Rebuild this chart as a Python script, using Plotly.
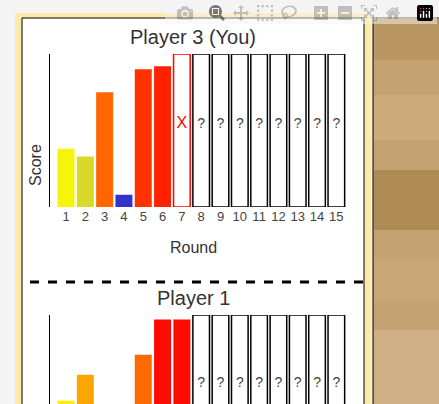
import plotly.graph_objects as go

rounds = list(range(1, 16))

# Player 3 (You): rounds played so far
p3_rounds = [1, 2, 3, 4, 5, 6]
p3_scores = [38, 33, 75, 8, 90, 92]
p3_colors = ['#f5f50a', '#d9d92a', '#ff6600', '#3333cc', '#ff3300', '#ff2200']
p3_current = 7
p3_pending = [8, 9, 10, 11, 12, 13, 14, 15]

# Player 1
p1_rounds = [1, 2, 5, 6, 7]
p1_scores = [44, 61, 74, 97, 97]
p1_colors = ['#ffee00', '#ffa500', '#ff6a00', '#ff0a00', '#ff0a00']
p1_pending = [8, 9, 10, 11, 12, 13, 14, 15]

W, H = 439, 404


def fx(px):
    return px / W


def fy(py):
    return 1 - py / H


fig = go.Figure()

# top panel
fig.add_trace(go.Bar(x=p3_rounds, y=p3_scores, marker=dict(color=p3_colors, line=dict(width=0)),
                     width=0.88, xaxis='x', yaxis='y'))
fig.add_trace(go.Bar(x=p3_pending, y=[100] * len(p3_pending), width=0.86,
                     marker=dict(color='white', line=dict(color='black', width=1.5)), xaxis='x', yaxis='y'))
fig.add_trace(go.Bar(x=[p3_current], y=[100], width=0.86,
                     marker=dict(color='white', line=dict(color='red', width=1.5)), xaxis='x', yaxis='y'))
fig.add_trace(go.Scatter(x=p3_pending, y=[54] * len(p3_pending), mode='text', text=['?'] * len(p3_pending),
                         textfont=dict(size=14, color='#444'), xaxis='x', yaxis='y'))
fig.add_trace(go.Scatter(x=[p3_current], y=[54], mode='text', text=['X'],
                         textfont=dict(size=16, color='red'), xaxis='x', yaxis='y'))

# bottom panel
fig.add_trace(go.Bar(x=p1_rounds, y=p1_scores, marker=dict(color=p1_colors, line=dict(width=0)),
                     width=0.88, xaxis='x2', yaxis='y2'))
fig.add_trace(go.Bar(x=p1_pending, y=[100] * len(p1_pending), width=0.86,
                     marker=dict(color='white', line=dict(color='black', width=1.5)), xaxis='x2', yaxis='y2'))
fig.add_trace(go.Scatter(x=p1_pending, y=[55] * len(p1_pending), mode='text', text=['?'] * len(p1_pending),
                         textfont=dict(size=14, color='#444'), xaxis='x2', yaxis='y2'))

xdom = [fx(50), fx(346)]
fig.update_layout(
    width=W, height=H, margin=dict(l=0, r=0, t=0, b=0),
    paper_bgcolor='#f4f4f4', plot_bgcolor='rgba(0,0,0,0)',
    showlegend=False, barmode='overlay',
    font=dict(family='Liberation Sans, Arial', color='#333'),
    xaxis=dict(domain=xdom, range=[0.17, 15.5], tickvals=rounds, ticks='', showgrid=False,
               zeroline=False, tickfont=dict(size=13, color='#444'), anchor='y'),
    yaxis=dict(domain=[fy(207), fy(54)], range=[0, 100], showgrid=False, zeroline=False,
               showticklabels=False, showline=True, linecolor='black', linewidth=1, anchor='x'),
    xaxis2=dict(domain=xdom, range=[0.17, 15.5], showticklabels=False, showgrid=False,
                zeroline=False, anchor='y2'),
    yaxis2=dict(domain=[0, fy(315)], range=[41.8, 100], showgrid=False, zeroline=False,
                showticklabels=False, showline=True, linecolor='black', linewidth=1, anchor='x2'),
)

shapes = [
    dict(type='rect', xref='paper', yref='paper', x0=fx(15), x1=fx(371), y0=0, y1=fy(13),
         fillcolor='#fde9a8', line=dict(width=0), layer='below'),
    dict(type='rect', xref='paper', yref='paper', x0=fx(22), x1=fx(364), y0=-0.01, y1=fy(18),
         fillcolor='white', line=dict(color='black', width=1), layer='below'),
    dict(type='rect', xref='paper', yref='paper', x0=fx(373), x1=1.01, y0=-0.01, y1=fy(18),
         fillcolor='#c4a271', line=dict(color='black', width=1), layer='below'),
    dict(type='line', xref='paper', yref='paper', x0=fx(30), x1=fx(364), y0=fy(282), y1=fy(282),
         line=dict(color='black', width=3, dash='dash')),
]
# wood texture bands
for y0, y1, c in [(18, 60, '#b8945f'), (95, 140, '#cfae7e'), (170, 230, '#a9844f'),
                  (260, 300, '#c9a878'), (330, 404, '#d2b48a')]:
    shapes.append(dict(type='rect', xref='paper', yref='paper', x0=fx(374), x1=1.01, y0=fy(y1), y1=fy(y0),
                       fillcolor=c, line=dict(width=0), opacity=0.8, layer='below'))
fig.update_layout(shapes=shapes)

labels = [
    ('Player 3 (You)', 193, 37, 20, 0),
    ('Round', 193, 247, 16, 0),
    ('Score', 36, 165, 16, -90),
    ('Player 1', 193, 298, 20, 0),
    ('Score', 36, 425, 16, -90),
]
for txt, px, py, size, ang in labels:
    fig.add_annotation(text=txt, x=fx(px), y=fy(py), xref='paper', yref='paper', textangle=ang,
                       xanchor='center', yanchor='middle', showarrow=False,
                       font=dict(size=size, color='#333'))

fig.write_html("out.html", post_script="document.body.style.margin='0';")
